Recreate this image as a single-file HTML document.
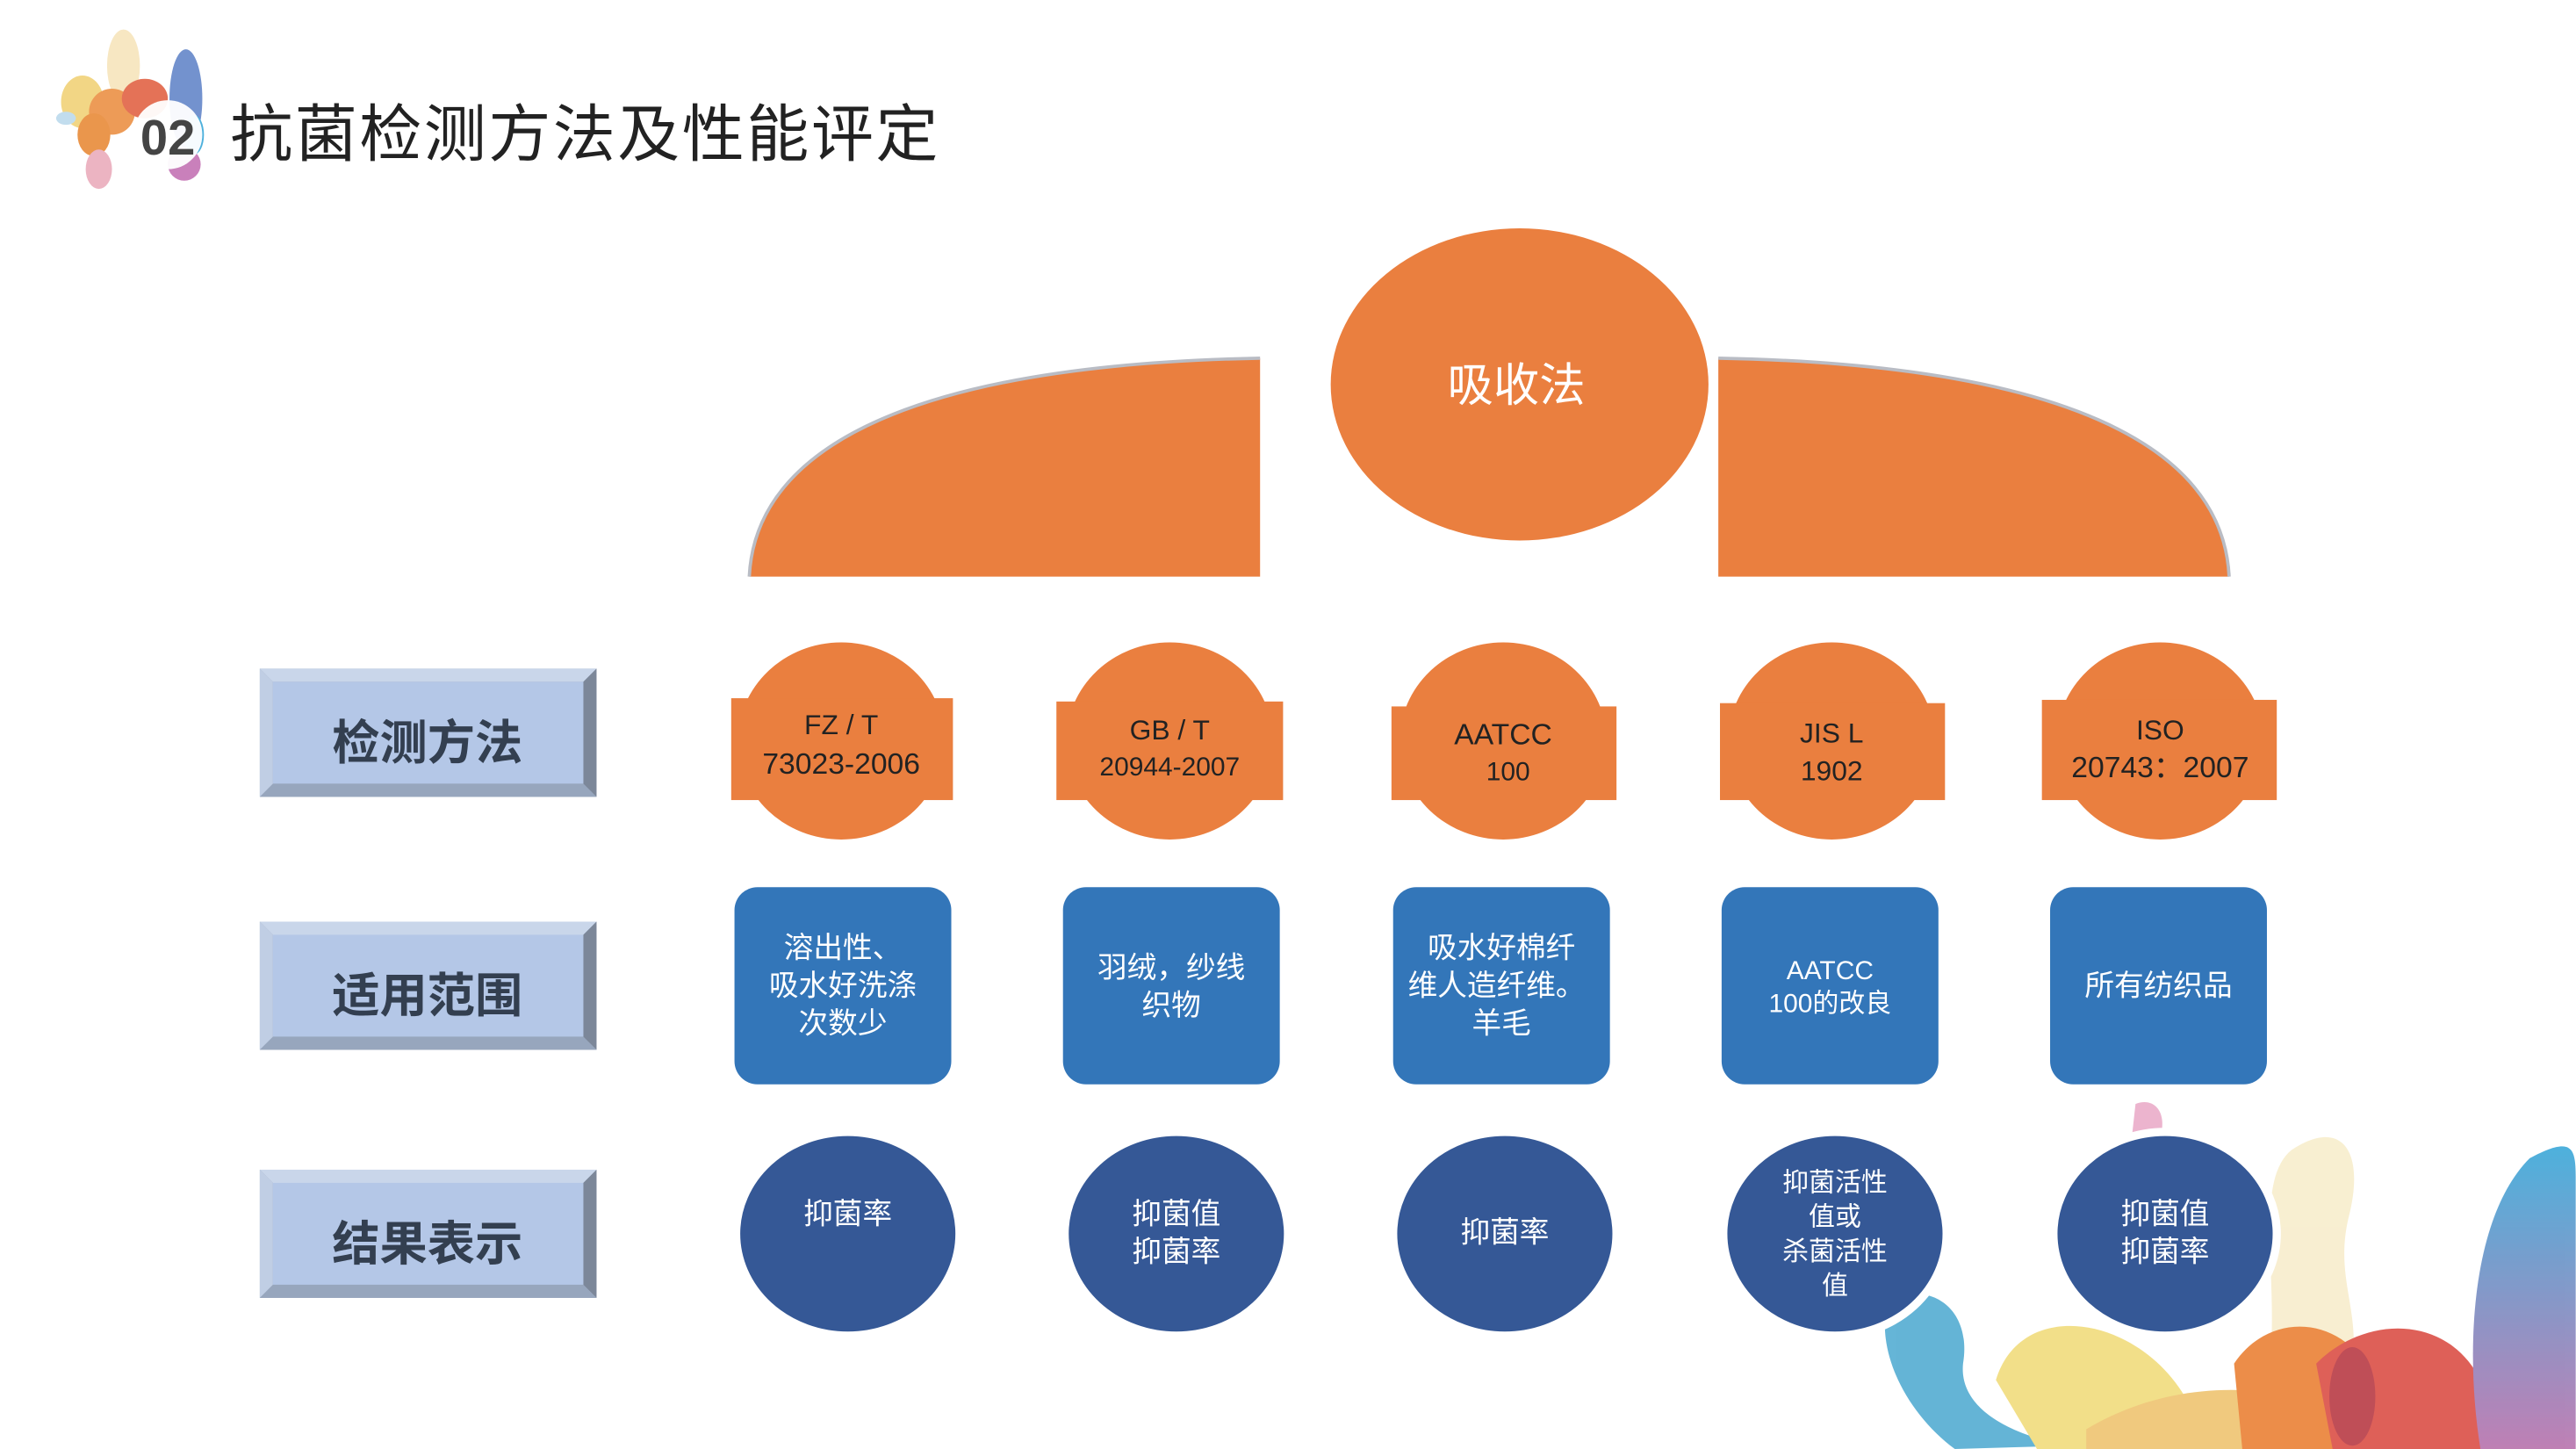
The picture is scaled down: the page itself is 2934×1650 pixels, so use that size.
<!DOCTYPE html>
<html><head><meta charset="utf-8"><style>
html,body{margin:0;padding:0;background:#fff;}
svg{display:block;}
text{font-family:"Liberation Sans","Noto Sans CJK SC",sans-serif;}
</style></head><body>
<svg width="2934" height="1650" viewBox="0 0 1568 882" xmlns="http://www.w3.org/2000/svg">
<defs>
<linearGradient id="bg1" x1="0" y1="0" x2="0" y2="1"><stop offset="0" stop-color="#2ea3d6"/><stop offset="1" stop-color="#b46aa8"/></linearGradient>
</defs>
<!-- logo -->
<g opacity="0.85">
<ellipse cx="75" cy="40" rx="10" ry="22" fill="#f6e3b8"/>
<ellipse cx="113" cy="60" rx="10" ry="30" fill="#5b7fc6"/>
<ellipse cx="50" cy="62" rx="13" ry="16" fill="#f0d070"/>
<ellipse cx="68" cy="68" rx="14" ry="14" fill="#ea8a3a"/>
<ellipse cx="88" cy="60" rx="14" ry="12" fill="#e05a3a"/>
<ellipse cx="57" cy="82" rx="10" ry="13" fill="#e7842d"/>
<ellipse cx="60" cy="103" rx="8" ry="12" fill="#e9a7b8"/>
<ellipse cx="40" cy="72" rx="6" ry="4" fill="#b8d8ec"/>
<ellipse cx="112" cy="100" rx="10" ry="10" fill="#c06ab0"/>
<ellipse cx="118" cy="82" rx="6" ry="12" fill="#2ea3d6"/>
</g>
<circle cx="102" cy="82" r="21" fill="#fff" opacity="0.95"/>
<text x="102" y="94" font-size="30" font-weight="bold" fill="#444" text-anchor="middle">02</text>
<text x="140" y="95" font-size="38" fill="#222" letter-spacing="1.3">抗菌检测方法及性能评定</text>

<!-- top -->
<path d="M456,351 C460,270 560,222 767,218 L767,351 Z" fill="#ea7f3f"/>
<path d="M456,351 C460,270 560,222 767,218" fill="none" stroke="#b9bcc4" stroke-width="2"/>
<path d="M1357,351 C1353,270 1253,222 1046,218 L1046,351 Z" fill="#ea7f3f"/>
<path d="M1357,351 C1353,270 1253,222 1046,218" fill="none" stroke="#b9bcc4" stroke-width="2"/>
<ellipse cx="925" cy="234" rx="115" ry="95" fill="#ea7f3f"/>
<text x="923" y="244" font-size="28" fill="#fff" text-anchor="middle">吸收法</text>

<!-- left labels -->
<g>
<rect x="158" y="407" width="205" height="78" fill="#8e9cb3"/>
<polygon points="158,407 363,407 355,415 166,415" fill="#c9d6ea"/>
<polygon points="363,407 363,485 355,477 355,415" fill="#7c8799"/>
<polygon points="158,485 363,485 355,477 166,477" fill="#97a6bd"/>
<polygon points="158,407 166,415 166,477 158,485" fill="#c0cee4"/>
<rect x="166" y="415" width="189" height="62" fill="#b4c7e7"/>
<text x="260" y="462" font-size="29" font-weight="bold" fill="#333f50" text-anchor="middle">检测方法</text>
</g>
<g transform="translate(0,154)">
<rect x="158" y="407" width="205" height="78" fill="#8e9cb3"/>
<polygon points="158,407 363,407 355,415 166,415" fill="#c9d6ea"/>
<polygon points="363,407 363,485 355,477 355,415" fill="#7c8799"/>
<polygon points="158,485 363,485 355,477 166,477" fill="#97a6bd"/>
<polygon points="158,407 166,415 166,477 158,485" fill="#c0cee4"/>
<rect x="166" y="415" width="189" height="62" fill="#b4c7e7"/>
<text x="260" y="462" font-size="29" font-weight="bold" fill="#333f50" text-anchor="middle">适用范围</text>
</g>
<g transform="translate(0,305)">
<rect x="158" y="407" width="205" height="78" fill="#8e9cb3"/>
<polygon points="158,407 363,407 355,415 166,415" fill="#c9d6ea"/>
<polygon points="363,407 363,485 355,477 355,415" fill="#7c8799"/>
<polygon points="158,485 363,485 355,477 166,477" fill="#97a6bd"/>
<polygon points="158,407 166,415 166,477 158,485" fill="#c0cee4"/>
<rect x="166" y="415" width="189" height="62" fill="#b4c7e7"/>
<text x="260" y="462" font-size="29" font-weight="bold" fill="#333f50" text-anchor="middle">结果表示</text>
</g>

<!-- decoration bottom right -->
<g opacity="0.85">
<path d="M1150,790 C1180,780 1200,800 1195,830 C1192,860 1230,875 1260,880 L1190,882 C1160,860 1140,820 1150,790 Z" fill="#4aa8d0"/>
<path d="M1300,672 C1310,668 1318,675 1316,688 L1298,690 Z" fill="#e9a7c5"/>
<path d="M1395,700 C1425,680 1440,700 1430,740 C1420,780 1440,800 1430,840 L1380,840 C1390,790 1370,720 1395,700 Z" fill="#f7ecc9"/>
<path d="M1215,840 C1230,790 1300,800 1330,850 L1340,882 L1240,882 Z" fill="#f0da75"/>
<path d="M1270,870 C1320,840 1380,840 1430,860 L1440,882 L1270,882 Z" fill="#eec068"/>
<path d="M1360,830 C1380,800 1420,800 1440,830 C1460,860 1450,882 1450,882 L1365,882 Z" fill="#e97a2a"/>
<path d="M1410,830 C1440,800 1490,800 1510,840 L1520,882 L1420,882 Z" fill="#d9453c"/>
<ellipse cx="1432" cy="850" rx="14" ry="30" fill="#b5303a"/>
<path d="M1540,705 C1568,690 1568,700 1568,720 L1568,882 L1510,882 C1500,820 1505,740 1540,705 Z" fill="url(#bg1)"/>
</g>

<!-- orange method nodes -->
<g fill="#ea7f3f">
<ellipse cx="512" cy="451" rx="63" ry="60"/><rect x="445" y="425" width="135" height="62"/>
<ellipse cx="712" cy="451" rx="63" ry="60"/><rect x="643" y="427" width="138" height="60"/>
<ellipse cx="915" cy="451" rx="63" ry="60"/><rect x="847" y="430" width="137" height="57"/>
<ellipse cx="1115" cy="451" rx="63" ry="60"/><rect x="1047" y="428" width="137" height="59"/>
<ellipse cx="1315" cy="451" rx="63" ry="60"/><rect x="1243" y="426" width="143" height="61"/>
</g>
<g fill="#222" text-anchor="middle">
<text x="512" y="447" font-size="17">FZ / T</text><text x="512" y="471" font-size="18">73023-2006</text>
<text x="712" y="450" font-size="17">GB / T</text><text x="712" y="472" font-size="16">20944-2007</text>
<text x="915" y="453" font-size="18">AATCC</text><text x="918" y="475" font-size="16">100</text>
<text x="1115" y="452" font-size="17">JIS L</text><text x="1115" y="475" font-size="17">1902</text>
<text x="1315" y="450" font-size="17">ISO</text><text x="1315" y="473" font-size="18">20743：2007</text>
</g>

<!-- blue scope boxes -->
<g fill="#3376b9">
<rect x="447" y="540" width="132" height="120" rx="14"/>
<rect x="647" y="540" width="132" height="120" rx="14"/>
<rect x="848" y="540" width="132" height="120" rx="14"/>
<rect x="1048" y="540" width="132" height="120" rx="14"/>
<rect x="1248" y="540" width="132" height="120" rx="14"/>
</g>
<g fill="#fff" text-anchor="middle" font-size="18">
<text x="513" y="583">溶出性、</text><text x="513" y="606">吸水好洗涤</text><text x="513" y="629">次数少</text>
<text x="713" y="595">羽绒，纱线</text><text x="713" y="618">织物</text>
<text x="914" y="583">吸水好棉纤</text><text x="911" y="606">维人造纤维。</text><text x="914" y="629">羊毛</text>
<text x="1114" y="596" font-size="16">AATCC</text><text x="1114" y="616" font-size="16">100的改良</text>
<text x="1314" y="606">所有纺织品</text>
</g>

<!-- result circles -->
<g fill="#355896" stroke="#fff" stroke-width="5">
<ellipse cx="516" cy="751" rx="68" ry="62"/>
<ellipse cx="716" cy="751" rx="68" ry="62"/>
<ellipse cx="916" cy="751" rx="68" ry="62"/>
<ellipse cx="1117" cy="751" rx="68" ry="62"/>
<ellipse cx="1318" cy="751" rx="68" ry="62"/>
</g>
<g fill="#fff" text-anchor="middle" font-size="18">
<text x="516" y="745">抑菌率</text>
<text x="716" y="745">抑菌值</text><text x="716" y="768">抑菌率</text>
<text x="916" y="756">抑菌率</text>
<text x="1117" y="725" font-size="16">抑菌活性</text><text x="1117" y="746" font-size="16">值或</text><text x="1117" y="767" font-size="16">杀菌活性</text><text x="1117" y="788" font-size="16">值</text>
<text x="1318" y="745">抑菌值</text><text x="1318" y="768">抑菌率</text>
</g>
</svg>
</body></html>
